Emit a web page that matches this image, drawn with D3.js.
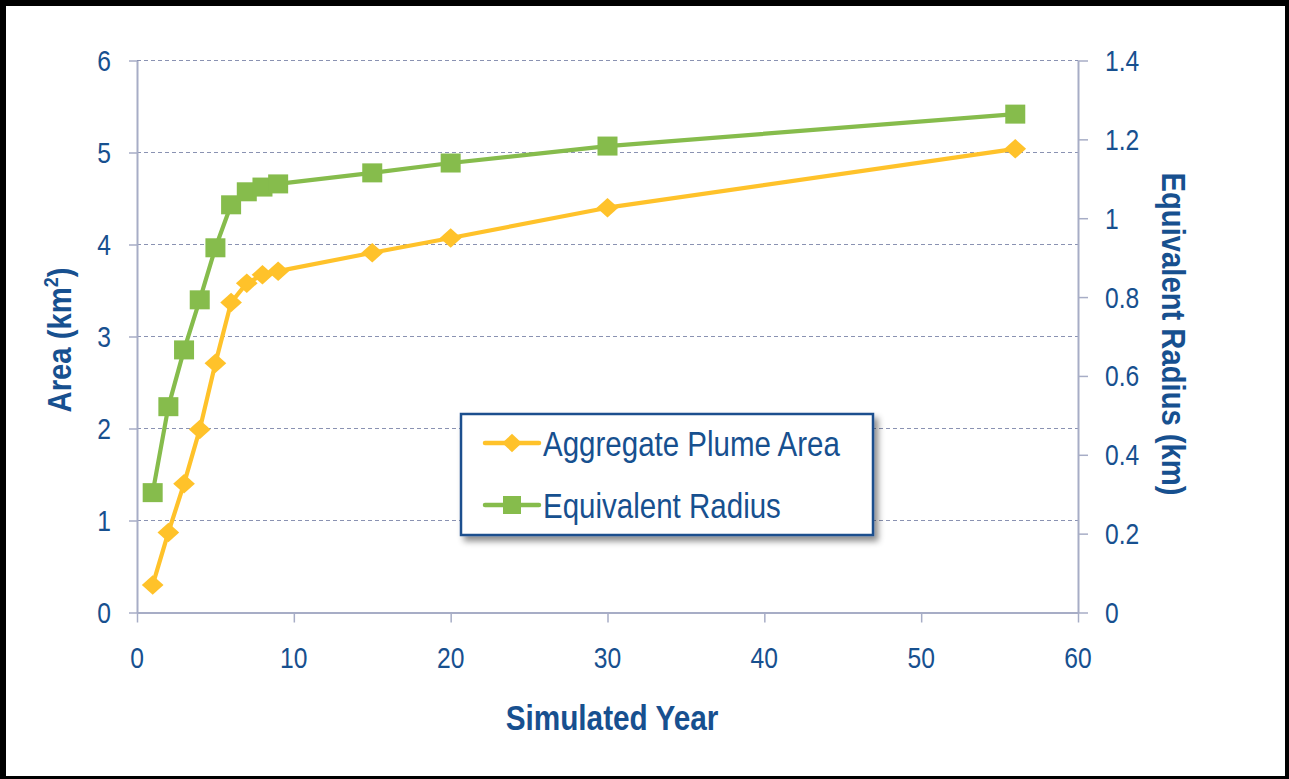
<!DOCTYPE html>
<html><head><meta charset="utf-8">
<script src="https://cdnjs.cloudflare.com/ajax/libs/d3/7.8.5/d3.min.js"></script>
<style>body{margin:0;background:#000;}svg{display:block;}</style>
</head><body>
<script>
const years = [1,2,3,4,5,6,7,8,9,15,20,30,56];
const plumeArea = [0.30,0.87,1.40,1.99,2.71,3.37,3.58,3.67,3.71,3.91,4.07,4.40,5.04];
const eqRadius = [0.304,0.522,0.666,0.793,0.925,1.034,1.067,1.079,1.087,1.115,1.140,1.183,1.264];
const seriesNames = ["Aggregate Plume Area","Equivalent Radius"];
const xTicks = [0,10,20,30,40,50,60];
const leftTicks = [0,1,2,3,4,5,6];
const rightTicks = [0,0.2,0.4,0.6,0.8,1,1.2,1.4];

const W=1289,H=779;
const txt="#17508f", orange="#ffc22a", green="#86bc4c", grid="#8a92b2", axisC="#a7adc6";
const svg=d3.select("body").append("svg").attr("width",W).attr("height",H);
svg.append("rect").attr("width",W).attr("height",H).attr("fill","#000");
svg.append("rect").attr("x",6).attr("y",6).attr("width",1279).attr("height",770).attr("fill","#fff");
const defs=svg.append("defs");
const f=defs.append("filter").attr("id","sh").attr("x","-10%").attr("y","-10%").attr("width","130%").attr("height","140%");
f.append("feDropShadow").attr("dx",4).attr("dy",5).attr("stdDeviation",3).attr("flood-color","#000").attr("flood-opacity",0.45);

const x=d3.scaleLinear().domain([0,60]).range([137,1078]);
const yL=d3.scaleLinear().domain([0,6]).range([612.5,60.5]);
const yR=d3.scaleLinear().domain([0,1.4]).range([612.5,60.5]);

function label(g,t,px,py,size,anchor,weight,sx,rot){
  const tr=`translate(${px},${py})`+(rot?` rotate(${rot})`:"")+` scale(${sx},1)`;
  return g.append("text").attr("transform",tr).attr("text-anchor",anchor)
    .attr("font-family","Liberation Sans, Arial, sans-serif").attr("font-size",size)
    .attr("font-weight",weight).attr("fill",txt).text(t);
}

// gridlines
svg.append("g").selectAll("line").data(leftTicks.filter(d=>d>0)).join("line")
  .attr("x1",x(0)).attr("x2",x(60)).attr("y1",d=>yL(d)).attr("y2",d=>yL(d))
  .attr("stroke",grid).attr("stroke-width",1).attr("stroke-dasharray","4,3");

// axes
function styleAxis(g){g.selectAll("text").remove();g.select(".domain").attr("stroke",axisC).attr("stroke-width",2);g.selectAll(".tick line").attr("stroke",axisC).attr("stroke-width",1.5);}
svg.append("g").attr("transform",`translate(${x(0)},0)`).call(d3.axisLeft(yL).tickValues(leftTicks).tickSize(8).tickSizeOuter(0)).call(styleAxis);
svg.append("g").attr("transform",`translate(${x(60)},0)`).call(d3.axisRight(yR).tickValues(rightTicks).tickSize(10).tickSizeOuter(0)).call(styleAxis);
svg.append("g").attr("transform",`translate(0,${yL(0)})`).call(d3.axisBottom(x).tickValues(xTicks).tickSize(10).tickSizeOuter(0)).call(styleAxis);

const lab=svg.append("g");
leftTicks.forEach(d=>label(lab,String(d),111,yL(d)+10.5,29,"end","normal",0.85));
rightTicks.forEach(d=>label(lab,String(+d.toFixed(1)),1105,yR(d)+10.5,29,"start","normal",0.85));
xTicks.forEach(d=>label(lab,String(d),x(d),668,29,"middle","normal",0.85));

// axis titles
label(lab,"Simulated Year",612,730,35,"middle","bold",0.85);
const at=label(lab,"Area (km",71,340,34,"middle","bold",0.86,-90);
at.append("tspan").attr("font-size",21).attr("dy",-13).text("2");
at.append("tspan").attr("dy",13).text(")");
label(lab,"Equivalent Radius (km)",1162,334,34,"middle","bold",0.86,90);

// series
const pts1=years.map((d,i)=>[x(d),yL(plumeArea[i])]);
const pts2=years.map((d,i)=>[x(d),yR(eqRadius[i])]);
const line=d3.line();
svg.append("path").attr("d",line(pts2)).attr("fill","none").attr("stroke",green).attr("stroke-width",4.2).attr("stroke-linejoin","round");
svg.append("g").selectAll("rect").data(pts2).join("rect")
  .attr("x",d=>d[0]-10).attr("y",d=>d[1]-9.5).attr("width",20).attr("height",19).attr("fill",green);
svg.append("path").attr("d",line(pts1)).attr("fill","none").attr("stroke",orange).attr("stroke-width",4.2).attr("stroke-linejoin","round");
const diamond=d3.symbol().type(d3.symbolDiamond2).size(300);
svg.append("g").selectAll("path").data(pts1).join("path")
  .attr("transform",d=>`translate(${d[0]},${d[1]}) scale(1,0.9)`).attr("d",diamond()).attr("fill",orange);

// legend
const lg=svg.append("g");
lg.append("rect").attr("x",461).attr("y",414).attr("width",412).attr("height",121)
  .attr("fill","#fff").attr("stroke","#1c4f8e").attr("stroke-width",2.5).attr("filter","url(#sh)");
const lrow=[443,505];
const lcol=[orange,green];
lrow.forEach((ly,i)=>{
  lg.append("line").attr("x1",485).attr("x2",539).attr("y1",ly).attr("y2",ly).attr("stroke",lcol[i]).attr("stroke-width",4.5).attr("stroke-linecap","round");
  if(i===0) lg.append("path").attr("transform",`translate(512,${ly}) scale(0.9,0.85)`).attr("d",diamond()).attr("fill",orange);
  else lg.append("rect").attr("x",503).attr("y",ly-9).attr("width",18).attr("height",18).attr("fill",green);
  label(lg,seriesNames[i],543,ly+12.5,36,"start","normal",0.82);
});
</script>
</body></html>
